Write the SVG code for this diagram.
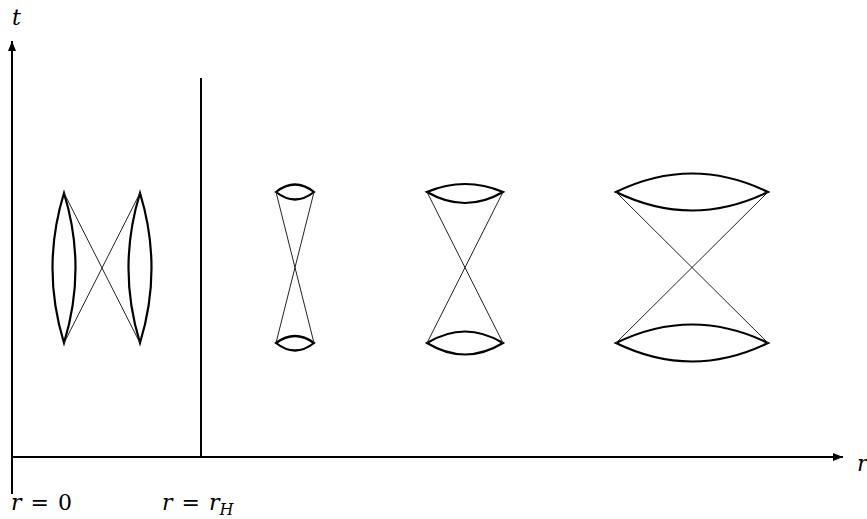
<svg xmlns="http://www.w3.org/2000/svg" width="867" height="519" viewBox="0 0 867 519">
<style>
.ax{stroke:#000;stroke-width:2;fill:none}
.lens{stroke:#000;stroke-width:2.2;fill:none;stroke-linejoin:miter}
.ray{stroke:#222;stroke-width:1;fill:none}
text{font-family:'DejaVu Serif','Liberation Serif',serif;font-size:22px;fill:#000}
.m{font-style:italic}
</style>
<defs>
<marker id="ah" viewBox="0 0 10 8" refX="10" refY="4" markerWidth="10" markerHeight="8" markerUnits="userSpaceOnUse" orient="auto">
<path d="M0,0 L10,4 L0,8 z" fill="#000"/>
</marker>
</defs>
<g id="axes">
<line class="ax" x1="12" y1="494" x2="12" y2="41" marker-end="url(#ah)"/>
<line class="ax" x1="12" y1="457" x2="843" y2="457" marker-end="url(#ah)"/>
<line class="ax" x1="201" y1="78" x2="201" y2="457"/>
</g>
<g id="labels">
<text class="m" x="12" y="25">t</text>
<text class="m" x="857" y="471">r</text>
<text x="11" y="510"><tspan class="m">r</tspan><tspan dx="9">=</tspan><tspan dx="9">0</tspan></text>
<text x="162" y="510"><tspan class="m">r</tspan><tspan dx="9">=</tspan><tspan class="m" dx="9">r</tspan><tspan class="m" font-size="16" dy="5">H</tspan></text>
</g>
<g id="cone1">
<path class="lens" d="M64,193 Q41,268 64,343 Q87,268 64,193 z"/>
<path class="lens" d="M140,193 Q117,268 140,343 Q163,268 140,193 z"/>
<line class="ray" x1="64" y1="193" x2="140" y2="343"/>
<line class="ray" x1="140" y1="193" x2="64" y2="343"/>
</g>
<g id="cone2">
<path class="lens" d="M276,192 Q295,177 314,192 Q295,207 276,192 z"/>
<path class="lens" d="M276,343 Q295,329 314,343 Q295,358 276,343 z"/>
<line class="ray" x1="276" y1="192" x2="314" y2="343"/>
<line class="ray" x1="314" y1="192" x2="276" y2="343"/>
</g>
<g id="cone3">
<path class="lens" d="M427,192 Q465,176 503,192 Q465,214 427,192 z"/>
<path class="lens" d="M427,343 Q465,320 503,343 Q465,366 427,343 z"/>
<line class="ray" x1="427" y1="192" x2="503" y2="343"/>
<line class="ray" x1="503" y1="192" x2="427" y2="343"/>
</g>
<g id="cone4">
<path class="lens" d="M616,192 Q692,155 768,192 Q692,229 616,192 z"/>
<path class="lens" d="M616,343 Q692,306 768,343 Q692,380 616,343 z"/>
<line class="ray" x1="616" y1="192" x2="768" y2="343"/>
<line class="ray" x1="768" y1="192" x2="616" y2="343"/>
</g>
</svg>
